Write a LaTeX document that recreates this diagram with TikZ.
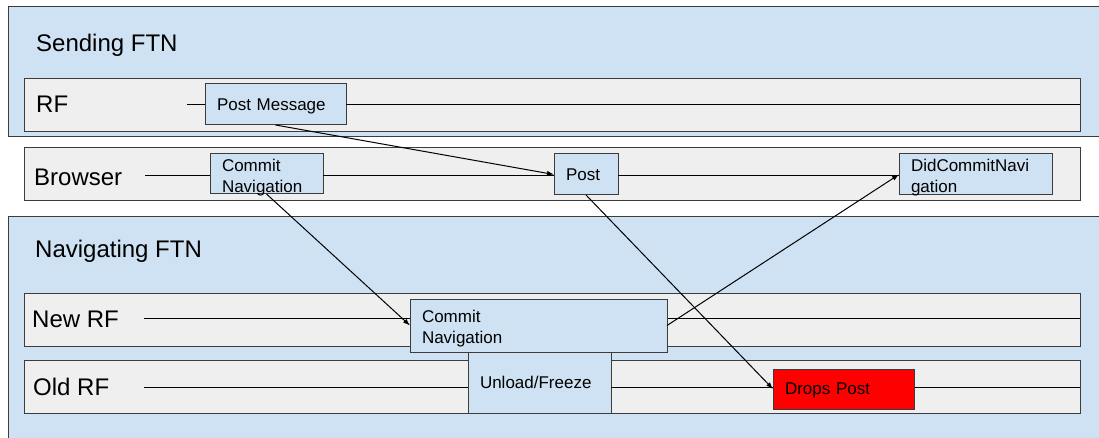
\documentclass[tikz,border=0pt]{standalone}
\usepackage{fontspec}
\setmainfont{Liberation Sans}
\usetikzlibrary{arrows.meta}
\definecolor{paleblue}{HTML}{CFE2F3}
\definecolor{lanegray}{HTML}{EFEFEF}
\definecolor{edgegray}{HTML}{3C3C3C}
\tikzset{
  frame/.style={draw=edgegray, line width=1pt, inner sep=0pt, outer sep=0pt, anchor=north west},
  ftn/.style={frame, fill=paleblue},
  lane/.style={frame, fill=lanegray},
  title/.style={font=\fontsize{24}{28}\selectfont, anchor=base west, inner sep=0pt},
  life/.style={line width=1pt, black},
  evt/.style={frame, fill=paleblue, font=\fontsize{17}{21}\selectfont, align=left, text depth=0pt},
  evttwo/.style={evt, text depth=18pt},
  msg/.style={line width=1pt, black, -{Latex[length=7pt,width=5pt]}},
}
\begin{document}
\begin{tikzpicture}[x=1pt, y=-1pt]
  \useasboundingbox (0,0) rectangle (1099,438);
  \fill[white] (0,0) rectangle (1099,438);
  \clip (0,0) rectangle (1099,438);

  % frame trees
  \node[ftn, minimum width=1110pt, minimum height=130pt] (send) at (8,7) {};
  \node[ftn, minimum width=1110pt, minimum height=240pt] (nav) at (8,217) {};
  \node[title] (sendt) at (36,52) {Sending FTN};
  \node[title] (navt) at (35,258) {Navigating FTN};

  % lanes
  \node[lane, minimum width=1056pt, minimum height=53pt] (rfl) at (24,79) {};
  \node[lane, minimum width=1056pt, minimum height=53pt] (brl) at (24,148) {};
  \node[lane, minimum width=1056pt, minimum height=53pt] (nrl) at (24,293) {};
  \node[lane, minimum width=1056pt, minimum height=53pt] (orl) at (24,360) {};
  \node[title] (rft) at (36,113) {RF};
  \node[title] (brt) at (34,186) {Browser};
  \node[title] (nrt) at (32,327) {New RF};
  \node[title] (ort) at (33,395) {Old RF};

  % events
  \node[evt, minimum width=141pt, minimum height=41pt, text width=117pt] (pm) at (205,84) {Post Message};
  \node[evttwo, minimum width=113pt, minimum height=40pt, text width=89pt] (cnb) at (210,154) {Commit\\Navigation};
  \node[evt, minimum width=64pt, minimum height=41pt, text width=40pt] (post) at (554,154) {Post};
  \node[evttwo, minimum width=153pt, minimum height=41pt, text width=129pt] (dcn) at (899,154) {DidCommitNavi\\gation};

  % lifelines
  \coordinate (rf0) at (187,105);
  \coordinate (br0) at (145,176);
  \coordinate (nr0) at (144,318);
  \coordinate (or0) at (144,387);
  \draw[life] (rf0) -- (rf0 -| pm.west);
  \draw[life] (pm.east |- rf0) -- (rf0 -| rfl.east);
  \draw[life] (br0) -- (br0 -| cnb.west);
  \draw[life] (cnb.east |- br0) -- (br0 -| post.west);
  \draw[life] (post.east |- br0) -- (br0 -| dcn.west);

  \node[evt, minimum width=143pt, minimum height=61pt, text width=119pt] (ul) at (468,352) {Unload/Freeze};
  \draw[life] (nr0) -- (nr0 -| nrl.east);
  \draw[life] (or0) -- (or0 -| ul.west);
  \draw[life] (ul.east |- or0) -- (or0 -| orl.east);
  \node[evttwo, minimum width=257pt, minimum height=53pt, text width=233pt] (cn2) at (410,299) {Commit\\Navigation};
  \node[evt, fill=red, minimum width=141pt, minimum height=40pt, text width=117pt] (drop) at (773,369) {Drops Post};

  % messages
  \draw[msg] (pm.south) -- (post.west);
  \draw[msg] (cnb.south) -- (cn2.west);
  \draw[msg] (cn2.east) -- (dcn.west);
  \draw[msg] (post.south) -- (drop.west);
\end{tikzpicture}
\end{document}
